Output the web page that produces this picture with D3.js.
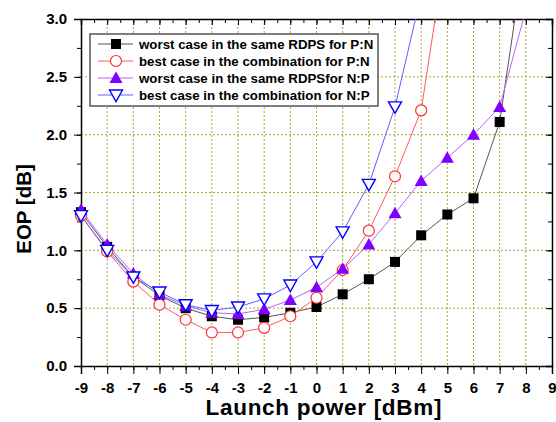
<!DOCTYPE html>
<html><head><meta charset="utf-8">
<script src="https://cdn.jsdelivr.net/npm/d3@7"></script>
<style>body{margin:0;background:#fff}svg{display:block}text{font-family:Arial,"Liberation Sans",sans-serif;font-weight:bold}</style>
</head><body><svg id="c" width="556" height="422"></svg>
<script>
const xTicks = [-9,-8,-7,-6,-5,-4,-3,-2,-1,0,1,2,3,4,5,6,7,8,9];
const yTicks = [0,0.5,1.0,1.5,2.0,2.5,3.0];
const xWorstPN = [-9,-8,-7,-6,-5,-4,-3,-2,-1,0,1,2,3,4,5,6,7,8];
const worstPN  = [1.33,1.03,0.77,0.61,0.50,0.43,0.40,0.42,0.46,0.51,0.62,0.75,0.90,1.13,1.31,1.45,2.11,3.64];
const xBestPN  = [-9,-8,-7,-6,-5,-4,-3,-2,-1,0,1,2,3,4,5];
const bestPN   = [1.30,0.99,0.73,0.53,0.40,0.29,0.29,0.33,0.43,0.59,0.83,1.17,1.64,2.21,3.69];
const xWorstNP = [-9,-8,-7,-6,-5,-4,-3,-2,-1,0,1,2,3,4,5,6,7,8];
const worstNP  = [1.35,1.05,0.80,0.62,0.52,0.46,0.45,0.49,0.57,0.68,0.84,1.05,1.32,1.60,1.80,2.00,2.24,3.08];
const xBestNP  = [-9,-8,-7,-6,-5,-4,-3,-2,-1,0,1,2,3,4];
const bestNP   = [1.30,1.00,0.77,0.64,0.53,0.48,0.51,0.58,0.70,0.90,1.16,1.57,2.24,3.21];
const legendLabels = ["worst case in the same RDPS for P:N","best case in the combination for P:N","worst case in the same RDPSfor N:P","best case in the combination for N:P"];

const svg = d3.select("#c");
const L=81, R=552, T=19, B=366;
const x = d3.scaleLinear().domain([-9,9]).range([L,R]);
const y = d3.scaleLinear().domain([0,3]).range([B,T]);

// grid
const gridColor = "#a8a838";
svg.append("g").selectAll("line").data(xTicks.filter(d=>d>-9&&d<9)).join("line")
  .attr("x1",d=>x(d)).attr("x2",d=>x(d)).attr("y1",T).attr("y2",B)
  .attr("stroke",gridColor).attr("stroke-width",1).attr("stroke-dasharray","2,2");
svg.append("g").selectAll("line").data(yTicks.filter(d=>d>0&&d<3)).join("line")
  .attr("y1",d=>y(d)).attr("y2",d=>y(d)).attr("x1",L).attr("x2",R)
  .attr("stroke",gridColor).attr("stroke-width",1).attr("stroke-dasharray","2,2");

// axes
const xMinor = d3.range(-9,9.01,0.5);
const yMinor = d3.range(0,3.01,0.25);
const axB = svg.append("g").attr("transform",`translate(0,${B})`)
  .call(d3.axisBottom(x).tickValues(xTicks).tickFormat(d=>d<0?"-"+Math.abs(d):String(d)).tickSize(8).tickPadding(8));
const axL = svg.append("g").attr("transform",`translate(${L},0)`)
  .call(d3.axisLeft(y).tickValues(yTicks).tickFormat(d3.format(".1f")).tickSize(7).tickPadding(7));
const axT = svg.append("g").attr("transform",`translate(0,${T})`)
  .call(d3.axisTop(x).tickValues(xTicks).tickFormat("").tickSize(-6));
const axR = svg.append("g").attr("transform",`translate(${R},0)`)
  .call(d3.axisRight(y).tickValues(yTicks).tickFormat("").tickSize(-6));
svg.selectAll(".tick text").attr("font-size",15).attr("font-weight","bold").attr("fill","#000")
  .attr("font-family","Arial, 'Liberation Sans', sans-serif");
axT.selectAll(".tick text").remove();
axR.selectAll(".tick text").remove();
// minor ticks
const mB = axB.append("g").call(d3.axisBottom(x).tickValues(xMinor).tickFormat("").tickSize(4));
const mL = axL.append("g").call(d3.axisLeft(y).tickValues(yMinor).tickFormat("").tickSize(4));
const mT = axT.append("g").call(d3.axisTop(x).tickValues(xMinor).tickFormat("").tickSize(-4));
const mR = axR.append("g").call(d3.axisRight(y).tickValues(yMinor).tickFormat("").tickSize(-4));
[mB,mL,mT,mR].forEach(m=>{m.selectAll(".tick text").remove(); m.select(".domain").remove();});
svg.selectAll(".domain").attr("stroke","#000").attr("stroke-width",1.5);
svg.selectAll(".tick line").attr("stroke","#000").attr("stroke-width",1);

// titles
svg.append("text").attr("x",(L+R)/2+7).attr("y",415).attr("text-anchor","middle")
  .attr("font-size",22.5).attr("textLength",236).attr("lengthAdjust","spacing").text("Launch power [dBm]");
svg.append("text").attr("transform","translate(31,209) rotate(-90)").attr("text-anchor","middle")
  .attr("font-size",20.5).text("EOP [dB]");

// series
svg.append("defs").append("clipPath").attr("id","clip").append("rect")
  .attr("x",L).attr("y",T).attr("width",R-L).attr("height",B-T);
const series = [
  {xs:xWorstPN, ys:worstPN, line:"#555555", marker:"square"},
  {xs:xBestPN, ys:bestPN, line:"#ff5a5a", marker:"circle"},
  {xs:xWorstNP, ys:worstNP, line:"#b266ff", marker:"tri"},
  {xs:xBestNP, ys:bestNP, line:"#6060ff", marker:"itri"}
];
function drawMarker(g, type, cx, cy){
  if(type==="square") g.append("rect").attr("x",cx-5).attr("y",cy-5).attr("width",10).attr("height",10).attr("fill","#000");
  else if(type==="circle") g.append("circle").attr("cx",cx).attr("cy",cy).attr("r",5.5).attr("fill","#fff").attr("stroke","#ff3030").attr("stroke-width",1.2);
  else if(type==="tri") g.append("path").attr("d",`M${cx},${cy-6.5}L${cx+6.5},${cy+5}L${cx-6.5},${cy+5}Z`).attr("fill","#8000ff");
  else g.append("path").attr("d",`M${cx-6.5},${cy-5}L${cx+6.5},${cy-5}L${cx},${cy+6.5}Z`).attr("fill","#fff").attr("stroke","#0000ff").attr("stroke-width",1.4);
}
const lineGen = d3.line().x(d=>x(d[0])).y(d=>y(d[1]));
series.forEach(s=>{
  const pts = s.xs.map((v,i)=>[v,s.ys[i]]);
  svg.append("path").attr("d",lineGen(pts)).attr("fill","none").attr("stroke",s.line)
    .attr("stroke-width",1).attr("clip-path","url(#clip)");
});
series.forEach(s=>{
  const g = svg.append("g");
  s.xs.forEach((v,i)=>{ if(s.ys[i]<=3) drawMarker(g,s.marker,x(v),y(s.ys[i])); });
});

// legend
const lg = svg.append("g");
lg.append("rect").attr("x",90).attr("y",34).attr("width",288).attr("height",72)
  .attr("fill","#fff").attr("stroke","#555").attr("stroke-width",1.5);
legendLabels.forEach((t,i)=>{
  const yy = 44 + i*17;
  lg.append("line").attr("x1",98).attr("x2",133).attr("y1",yy).attr("y2",yy).attr("stroke",series[i].line).attr("stroke-width",1);
  drawMarker(lg, series[i].marker, 116, yy);
  lg.append("text").attr("x",139).attr("y",yy+4.7).attr("font-size",13.3).text(t);
});
</script></body></html>
